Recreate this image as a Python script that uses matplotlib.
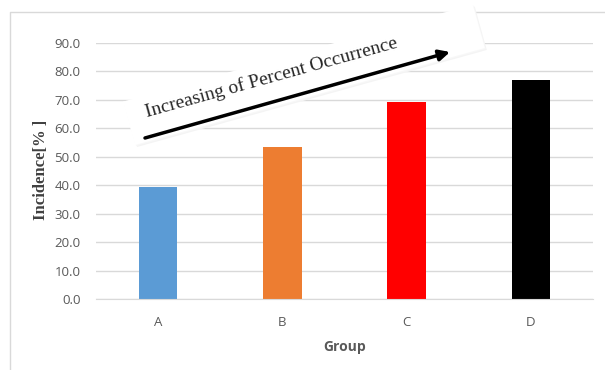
import matplotlib
matplotlib.use("Agg")
import matplotlib.pyplot as plt
from matplotlib.patches import Rectangle
from matplotlib.lines import Line2D
from matplotlib.transforms import Affine2D

groups = ["A", "B", "C", "D"]
incidence = [39.4, 53.4, 69.3, 77.0]
bar_colors = ["#5b9bd5", "#ed7d31", "#ff0000", "#000000"]
y_ticks = [0, 10, 20, 30, 40, 50, 60, 70, 80, 90]

fig = plt.figure(figsize=(6.05, 3.70), dpi=100)
ax = fig.add_axes([96 / 605, 1 - 299 / 370, 497 / 605, 256 / 370])

# outer chart frame (left and top edges only show)
fig.add_artist(Line2D([10 / 605, 10 / 605, 1.0], [0.0, 1 - 11.5 / 370, 1 - 11.5 / 370],
                      transform=fig.transFigure, color="#d9d9d9", lw=1.0, zorder=-1))

x = list(range(len(groups)))
ax.bar(x, incidence, width=0.31, color=bar_colors, zorder=2)

ax.set_xlim(-0.5, 3.5)
ax.set_ylim(0, 90)
ax.set_yticks(y_ticks)
ax.set_yticklabels(["%.1f" % v for v in y_ticks])
ax.set_xticks(x)
ax.set_xticklabels(groups)
ax.grid(axis="y", color="#d9d9d9", lw=1.0, zorder=0)
ax.set_axisbelow(True)
for s in ["top", "right", "left"]:
    ax.spines[s].set_visible(False)
ax.spines["bottom"].set_color("#d9d9d9")
ax.spines["bottom"].set_zorder(3)
ax.tick_params(length=0, colors="#595959", labelsize=9.5)
ax.tick_params(axis="y", pad=11)
ax.tick_params(axis="x", pad=12)
for lab in ax.get_xticklabels() + ax.get_yticklabels():
    lab.set_fontfamily("Open Sans")

ax.set_xlabel("Group", fontfamily="Open Sans", fontweight="bold", fontsize=10,
              color="#595959", labelpad=8)
fig.text(41 / 605, 1 - 170 / 370, "Incidence[% ]", rotation=90, ha="center", va="center",
         fontfamily="Liberation Serif", fontweight="bold", fontsize=12, color="#404040")

# white rotated box behind the trend note, with a faint soft shadow
px = Affine2D().scale(1 / 100.0) + fig.dpi_scale_trans
ang = 15.5
for off, fc, z in [((2, -2), "#f4f4f4", 4), ((1, -1), "#f8f8f8", 4.5), ((0, 0), "white", 5)]:
    r = Rectangle((0, 0), 363, 45, fc=fc, ec="none", zorder=z, clip_on=False,
                  transform=Affine2D().rotate_deg(ang).translate(135 + off[0], 370 - 145 + off[1]) + px)
    ax.add_artist(r)

ax.annotate("", xy=(450, 370 - 52), xytext=(145, 370 - 138),
            xycoords="figure pixels", textcoords="figure pixels",
            arrowprops=dict(arrowstyle="-|>", lw=2.5, color="black", mutation_scale=16,
                            shrinkA=0, shrinkB=0),
            annotation_clip=False, zorder=6)
ax.annotate("Increasing of Percent Occurrence", xy=(273, 370 - 82), xycoords="figure pixels",
            rotation=ang, rotation_mode="anchor", ha="center", va="baseline",
            fontfamily="Liberation Serif", fontsize=14, color="#262626",
            annotation_clip=False, zorder=7)

fig.savefig("out.png", dpi=100)
